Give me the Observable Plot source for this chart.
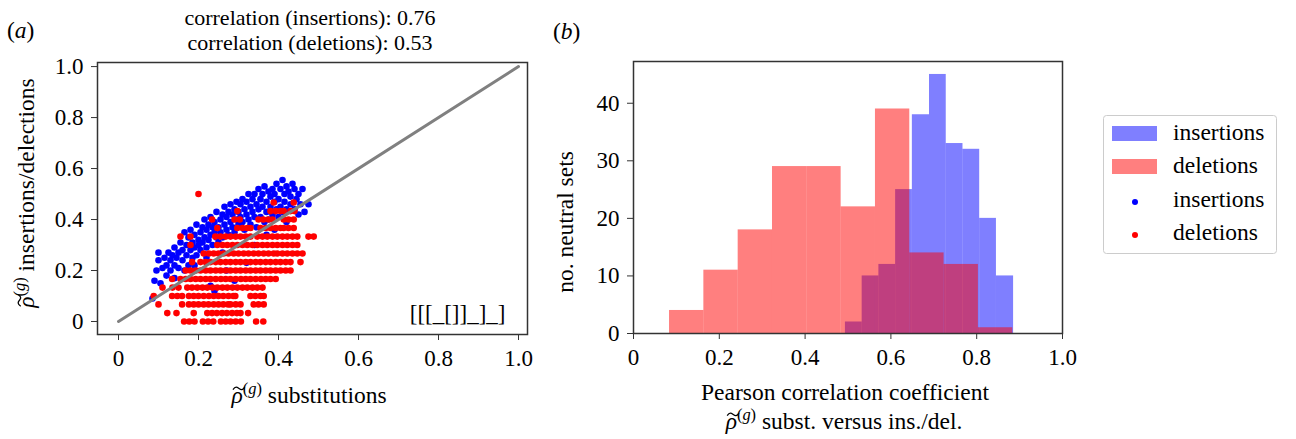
<!DOCTYPE html>
<html><head><meta charset="utf-8">
<script src="https://cdn.jsdelivr.net/npm/d3@7"></script>
<script src="https://cdn.jsdelivr.net/npm/@observablehq/plot@0.6"></script>
<style>
html,body{margin:0;padding:0;background:#fff}
body{width:1296px;height:439px;position:relative;overflow:hidden;font-family:"Liberation Serif","Times New Roman","DejaVu Serif",serif;color:#000}
.abs{position:absolute;top:0}
svg text, svg tspan{font-family:"Liberation Serif","Times New Roman","DejaVu Serif",serif !important}
</style></head><body>
<div id="pa" class="abs" style="left:0;width:560px;height:439px"></div>
<div id="pb" class="abs" style="left:540px;width:560px;height:439px"></div>
<svg id="ov" class="abs" style="left:0" width="1296" height="439"></svg>
<script>
// ---------- data ----------
const xTicksA = [0, 0.2, 0.4, 0.6, 0.8, 1.0];
const yTicksA = [0, 0.2, 0.4, 0.6, 0.8, 1.0];
const xTicksB = [0, 0.2, 0.4, 0.6, 0.8, 1.0];
const yTicksB = [0, 10, 20, 30, 40];
const diagLine = [0, 1];
const correlationIns = 0.76;
const correlationDel = 0.53;
const annotation = "[[[_[]]_]_]";

// insertions scatter (x: substitutions, y: insertions)
const insPts = [
 [0.085,0.09],[0.09,0.16],[0.095,0.2],[0.1,0.24],[0.1,0.27],[0.11,0.21],[0.105,0.15],
 [0.115,0.25],[0.12,0.22],[0.125,0.27],[0.13,0.2],[0.13,0.24],[0.135,0.26],[0.14,0.22],[0.14,0.29],[0.145,0.25],[0.15,0.21],[0.15,0.27],[0.12,0.18],[0.14,0.17],
 [0.155,0.31],[0.16,0.24],[0.16,0.28],[0.165,0.35],[0.17,0.26],[0.17,0.3],[0.175,0.22],[0.175,0.33],[0.18,0.28],[0.18,0.36],[0.185,0.25],[0.185,0.31],[0.19,0.34],[0.19,0.29],[0.195,0.38],[0.195,0.26],[0.2,0.32],[0.2,0.3],[0.165,0.2],[0.19,0.22],
 [0.205,0.35],[0.205,0.28],[0.21,0.37],[0.21,0.31],[0.215,0.33],[0.215,0.4],[0.22,0.29],[0.22,0.36],[0.225,0.38],[0.225,0.32],[0.23,0.34],[0.23,0.41],[0.235,0.3],[0.235,0.37],[0.24,0.35],[0.24,0.39],[0.245,0.33],[0.245,0.43],[0.25,0.37],[0.25,0.31],[0.23,0.14],[0.24,0.12],[0.22,0.25],
 [0.255,0.4],[0.255,0.35],[0.26,0.42],[0.26,0.33],[0.265,0.38],[0.265,0.45],[0.27,0.36],[0.27,0.41],[0.275,0.43],[0.275,0.34],[0.28,0.39],[0.28,0.46],[0.285,0.37],[0.285,0.42],[0.29,0.44],[0.29,0.35],[0.295,0.4],[0.295,0.47],[0.3,0.38],[0.3,0.43],[0.27,0.2],[0.29,0.16],[0.26,0.27],
 [0.305,0.46],[0.305,0.41],[0.31,0.39],[0.31,0.48],[0.315,0.44],[0.315,0.36],[0.32,0.47],[0.32,0.42],[0.325,0.4],[0.325,0.5],[0.33,0.45],[0.33,0.38],[0.335,0.48],[0.335,0.43],[0.34,0.41],[0.34,0.5],[0.345,0.46],[0.345,0.37],[0.35,0.44],[0.35,0.52],[0.32,0.23],[0.34,0.3],
 [0.355,0.48],[0.355,0.41],[0.36,0.5],[0.36,0.45],[0.365,0.39],[0.365,0.53],[0.37,0.47],[0.37,0.43],[0.375,0.51],[0.375,0.4],[0.38,0.49],[0.38,0.45],[0.385,0.52],[0.385,0.42],[0.39,0.47],[0.39,0.5],[0.395,0.44],[0.395,0.54],[0.4,0.48],[0.4,0.41],[0.37,0.34],[0.39,0.36],
 [0.405,0.52],[0.405,0.45],[0.41,0.555],[0.41,0.43],[0.415,0.5],[0.415,0.47],[0.42,0.53],[0.42,0.44],[0.425,0.51],[0.43,0.49],[0.43,0.46],[0.435,0.54],[0.44,0.52],[0.44,0.44],[0.445,0.48],[0.45,0.5],[0.455,0.46],[0.46,0.52],[0.465,0.43],[0.475,0.46],[0.42,0.39],[0.45,0.42]
];

// deletions scatter: rows at discrete y levels, with x values read per row
const delRows = [
 [0.0,   [0.164,0.177,0.19,0.211,0.224,0.237,0.256,0.268,0.28,0.293,0.306,0.344,0.362]],
 [0.033, [0.122,0.145,0.188,0.222,0.234,0.246,0.259,0.271,0.284,0.296,0.305,0.324]],
 [0.067, [0.1,0.159,0.176,0.188,0.2,0.213,0.225,0.238,0.25,0.262,0.274,0.28,0.293,0.305,0.338,0.35,0.363]],
 [0.1,   [0.088,0.134,0.147,0.159,0.176,0.188,0.2,0.213,0.226,0.238,0.25,0.262,0.275,0.287,0.292,0.33,0.342,0.355,0.363]],
 [0.133, [0.11,0.135,0.15,0.172,0.184,0.197,0.21,0.222,0.235,0.247,0.26,0.272,0.285,0.297,0.31,0.322,0.335,0.347,0.36]],
 [0.167, [0.134,0.155,0.168,0.18,0.193,0.205,0.218,0.23,0.243,0.256,0.268,0.28,0.293,0.306,0.318,0.33,0.343,0.356,0.368,0.38,0.393]],
 [0.2,   [0.168,0.18,0.193,0.205,0.218,0.23,0.243,0.255,0.268,0.28,0.293,0.305,0.318,0.33,0.343,0.355,0.368,0.38,0.393,0.405,0.418,0.43]],
 [0.233, [0.184,0.205,0.218,0.23,0.243,0.255,0.268,0.28,0.293,0.305,0.318,0.33,0.343,0.355,0.368,0.38,0.393,0.405,0.418,0.43,0.455]],
 [0.267, [0.213,0.226,0.238,0.25,0.263,0.275,0.288,0.3,0.313,0.325,0.338,0.35,0.363,0.375,0.388,0.397,0.41,0.422,0.435,0.447,0.46]],
 [0.3,   [0.18,0.247,0.26,0.272,0.285,0.297,0.31,0.322,0.335,0.347,0.36,0.372,0.385,0.397,0.41,0.422,0.435,0.447]],
 [0.333, [0.155,0.18,0.242,0.255,0.268,0.28,0.293,0.305,0.318,0.33,0.347,0.36,0.372,0.385,0.397,0.41,0.422,0.435,0.447,0.475,0.488]],
 [0.367, [0.247,0.297,0.31,0.322,0.33,0.355,0.368,0.38,0.393,0.405,0.413,0.425,0.438]],
 [0.4,   [0.234,0.29,0.303,0.35,0.362,0.375,0.385,0.413,0.425,0.438]],
 [0.433, [0.297,0.38,0.393,0.405,0.413,0.43,0.44]],
 [0.467, [0.388,0.438]],
 [0.5,   [0.2]]
];

// histograms (panel b)
const delEdges  = [0.084,0.164,0.244,0.324,0.404,0.484,0.564,0.644,0.724,0.804,0.884];
const delCounts = [4,11,18,29,29,22,39,14,12,1];
const insEdges  = [0.494,0.533,0.572,0.611,0.650,0.690,0.729,0.768,0.807,0.846,0.886];
const insCounts = [2,10,12,25,38,45,33,32,20,10];

const seriesNames = ["insertions","deletions"];

// ---------- build tables ----------
const insData = insPts.map(([x,y]) => ({x, y}));
const delData = delRows.flatMap(([y, xs]) => xs.map(x => ({x, y})));
const insBins = insCounts.map((n,i) => ({x1: insEdges[i], x2: insEdges[i+1], n}));
const delBins = delCounts.map((n,i) => ({x1: delEdges[i], x2: delEdges[i+1], n}));

const FONT = '"Liberation Serif","Times New Roman","DejaVu Serif",serif';
const FS = 23.5;
const TFS = 23;
const TITLE_FS = 22;
const fmt = d => d === 0 ? "0" : d.toFixed(1);

const plotA = Plot.plot({
  width: 560, height: 439,
  marginLeft: 97, marginRight: 33, marginTop: 62, marginBottom: 105,
  style: {fontFamily: FONT, fontSize: TFS + "px", background: "transparent", overflow: "visible"},
  x: {domain: [-0.0525, 1.0225]},
  y: {domain: [-0.051, 1.016]},
  marks: [
    Plot.dot(insData, {x: "x", y: "y", r: 3.3, fill: "#0000ff"}),
    Plot.dot(delData, {x: "x", y: "y", r: 3.3, fill: "#ff0000"}),
    Plot.line(diagLine, {x: d => d, y: d => d, stroke: "#808080", strokeWidth: 3}),
    Plot.text([annotation], {text: d => d, frameAnchor: "bottom-right", textAnchor: "end", lineAnchor: "bottom", dx: -22, dy: -14, fontSize: TFS}),
    Plot.frame({stroke: "#333", strokeWidth: 1.5}),
    Plot.axisX({ticks: xTicksA, tickFormat: fmt, tickSize: 6, tickPadding: 9, label: null, fontSize: TFS, stroke: "#333"}),
    Plot.axisY({ticks: yTicksA, tickFormat: fmt, tickSize: 6, tickPadding: 8, label: null, fontSize: TFS, stroke: "#333"})
  ]
});
document.getElementById("pa").appendChild(plotA);

const plotB = Plot.plot({
  width: 560, height: 439,
  marginLeft: 93, marginRight: 38, marginTop: 61, marginBottom: 106,
  style: {fontFamily: FONT, fontSize: TFS + "px", background: "transparent", overflow: "visible"},
  x: {domain: [0, 1]},
  y: {domain: [0, 47.25]},
  marks: [
    Plot.rect(insBins, {x1: "x1", x2: "x2", y1: 0, y2: "n", fill: "#0000ff", fillOpacity: 0.5}),
    Plot.rect(delBins, {x1: "x1", x2: "x2", y1: 0, y2: "n", fill: "#ff0000", fillOpacity: 0.5}),
    Plot.frame({stroke: "#333", strokeWidth: 1.5}),
    Plot.axisX({ticks: xTicksB, tickFormat: fmt, tickSize: 6, tickPadding: 9, label: null, fontSize: TFS, stroke: "#333"}),
    Plot.axisY({ticks: yTicksB, tickSize: 6, tickPadding: 8, label: null, fontSize: TFS, stroke: "#333"})
  ]
});
document.getElementById("pb").appendChild(plotB);

// ---------- overlay texts and legend ----------
const NS = "http://www.w3.org/2000/svg";
const ov = document.getElementById("ov");
function el(tag, attrs, parent) {
  const e = document.createElementNS(NS, tag);
  for (const k in attrs) e.setAttribute(k, attrs[k]);
  if (parent) parent.appendChild(e);
  return e;
}
function richText(x, y, rot, parts, size, anchor, tilde) {
  const g = el("g", {transform: `translate(${x},${y}) rotate(${rot})`}, ov);
  const t = el("text", {x: 0, y: 0, "text-anchor": anchor, "font-size": size, fill: "#000"}, g);
  let shift = 0;
  for (const p of parts) {
    const s = el("tspan", {}, t);
    const target = p.sup ? -0.4 * size : 0;
    if (target !== shift) { s.setAttribute("dy", target - shift); shift = target; }
    if (p.sup) s.setAttribute("font-size", size * 0.7);
    if (p.it) s.setAttribute("font-style", "italic");
    s.textContent = p.t;
  }
  if (tilde) {
    // wide tilde accent over the first glyph (rho), drawn as a small wave
    const a = t.getStartPositionOfChar(0), b = t.getEndPositionOfChar(0);
    const w = 0.5 * size, x0 = (a.x + b.x) / 2 + 1.8 - w / 2, y0 = a.y - 0.62 * size;
    el("path", {d: `M${x0},${y0 + 1.3} C${x0 + w * 0.22},${y0 - 2.6} ${x0 + w * 0.36},${y0 - 1.2} ${x0 + w * 0.5},${y0} S${x0 + w * 0.78},${y0 + 2.6} ${x0 + w},${y0 - 1.3}`,
      fill: "none", stroke: "#000", "stroke-width": 1.3}, g);
  }
  return g;
}
const rho = [{t: "ρ", it: true}, {t: "(", sup: true}, {t: "g", sup: true, it: true}, {t: ")", sup: true}];

// panel letters
richText(7, 38, 0, [{t: "("}, {t: "a", it: true}, {t: ")"}], FS, "start");
richText(553, 39, 0, [{t: "("}, {t: "b", it: true}, {t: ")"}], FS, "start");
// title
richText(310, 25, 0, [{t: `correlation (${seriesNames[0]}): ${correlationIns.toFixed(2)}`}], TITLE_FS, "middle");
richText(310, 50, 0, [{t: `correlation (${seriesNames[1]}): ${correlationDel.toFixed(2)}`}], TITLE_FS, "middle");
// axis labels panel a
richText(309, 403, 0, [...rho, {t: " substitutions"}], FS, "middle", true);
richText(34, 193, -90, [...rho, {t: " insertions/delections"}], FS, "middle", true);
// axis labels panel b
richText(845, 400, 0, [{t: "Pearson correlation coefficient"}], FS, "middle");
richText(844, 429, 0, [...rho, {t: " subst. versus ins./del."}], FS, "middle", true);
richText(573, 222, -90, [{t: "no.  neutral sets"}], FS, "middle");

// legend
el("rect", {x: 1103.5, y: 115.5, width: 173, height: 138, rx: 3, fill: "#fff", stroke: "#cccccc", "stroke-width": 1}, ov);
el("rect", {x: 1112, y: 126, width: 45, height: 15, fill: "#0000ff", "fill-opacity": 0.5}, ov);
el("rect", {x: 1112, y: 159, width: 45, height: 15, fill: "#ff0000", "fill-opacity": 0.5}, ov);
el("circle", {cx: 1135, cy: 202, r: 3, fill: "#0000ff"}, ov);
el("circle", {cx: 1135, cy: 235, r: 3, fill: "#ff0000"}, ov);
[[140, 0], [173, 1], [207, 0], [240, 1]].forEach(([y, i]) => {
  el("text", {x: 1173, y, "font-size": FS, fill: "#000"}, ov).textContent = seriesNames[i];
});
</script>
</body></html>
